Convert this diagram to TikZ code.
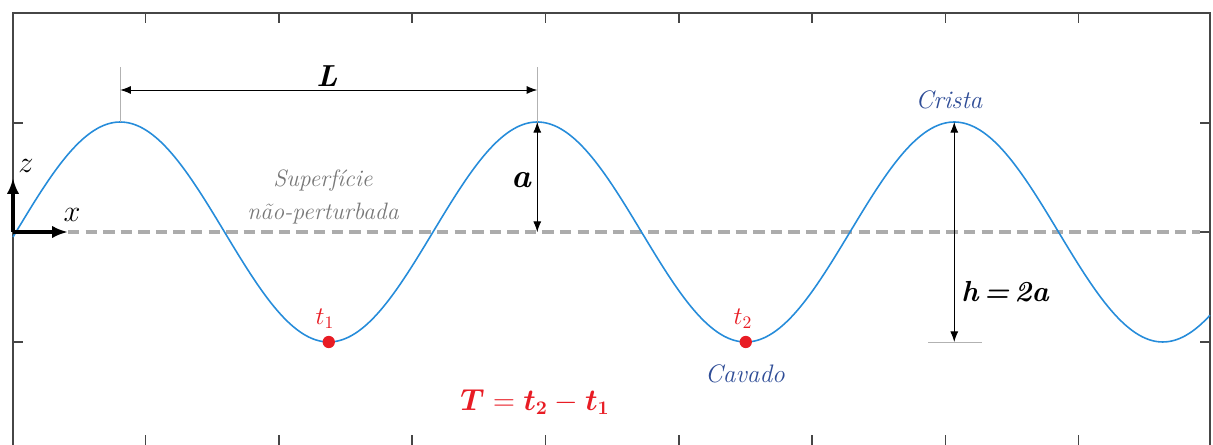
\documentclass[tikz,border=0pt]{standalone}
\usepackage{amsmath}
\usepackage{tikz}
\usetikzlibrary{arrows.meta, positioning}

\definecolor{waveblue}{RGB}{38,140,218}
\definecolor{labelblue}{RGB}{46,76,150}
\definecolor{markred}{RGB}{232,28,36}
\definecolor{surfgray}{RGB}{172,172,172}
\definecolor{textgray}{RGB}{120,120,120}
\definecolor{framegray}{RGB}{70,70,70}

\begin{document}
\begin{tikzpicture}[x=0.02cm, y=-0.02cm,
    dim/.style={{Latex[length=6pt,width=4.5pt]}-{Latex[length=6pt,width=4.5pt]}, black, line width=0.5pt},
    guide/.style={gray!60, line width=0.5pt},
    axis/.style={-{Latex[length=9pt,width=7pt]}, line width=1.8pt},
    tickline/.style={framegray, line width=0.9pt},
    tdot/.style={circle, fill=markred, inner sep=0pt, minimum size=7pt},
    bigred/.style={text=markred, font=\fontsize{16}{18}\selectfont}]
    \useasboundingbox (0,0) rectangle (1213,445);

    % Frame and ticks
    \draw[tickline] (13,445) -- (13,13) -- (1210,13) -- (1210,445);
    \foreach \i in {0,...,7} {
        \draw[tickline] (145.5+133.3*\i,13) -- ++(0,10);
        \draw[tickline] (145.5+133.3*\i,445) -- ++(0,-10);
    }
    \foreach \y in {123,232,342} {
        \draw[tickline] (13,\y) -- ++(10,0);
        \draw[tickline] (1210,\y) -- ++(-10,0);
    }

    % Key points of the wave
    \coordinate (origin) at (13,232);
    \coordinate (zend) at (13,178);
    \coordinate (xend) at (68,232);
    \coordinate (surfend) at (1200,232);
    \coordinate (crest1) at (120.25,122);
    \coordinate (crest2) at (537.25,122);
    \coordinate (crest3) at (954.25,122);
    \coordinate (trough1) at (328.75,342);
    \coordinate (trough2) at (745.75,342);
    \coordinate (mid2) at (537.25,232);
    \coordinate (base3) at (954.25,342);
    \coordinate (Lleft) at (120.25,90);
    \coordinate (Lright) at (537.25,90);

    % Undisturbed surface
    \draw[surfgray, line width=1.8pt, dash pattern=on 6.5pt off 3.5pt] (xend) -- (surfend);

    % Wave profile
    \draw[waveblue, line width=0.9pt] plot[domain=13:1210, samples=240, smooth]
        (\x, {232-110*sin(0.86331*(\x-16))});

    % Axes
    \draw[axis] (origin) -- (zend);
    \draw[axis] (origin) -- (xend);
    \node (zlabel) at (26,166) {\LARGE$z$};
    \node (xlabel) at (72,215) {\LARGE$x$};

    % Wavelength
    \draw[guide] (crest1) -- ++(0,-55);
    \draw[guide] (mid2) -- ++(0,-165);
    \draw[dim] (Lleft) -- (Lright);
    \node (Llabel) at (327,76) {\LARGE\bfseries\itshape L};

    % Amplitude and height
    \draw[dim] (crest2) -- (mid2);
    \node (alabel) at (521,180) {\fontsize{19}{21}\selectfont\bfseries\itshape a};
    \draw[guide] (928,342) -- (982,342);
    \draw[dim] (crest3) -- (base3);
    \node (hlabel) at (1005,292) {\fontsize{16.5}{18}\selectfont\bfseries\itshape h\hspace{0.18em}=\hspace{0.18em}2a};

    % Labels
    \node[textgray, align=center, font=\fontsize{13.5}{15}\selectfont\itshape] (surf) at (323,197) {Superfície\\[4pt]não-perturbada};
    \node[labelblue, font=\Large\itshape] (crista) at (949,100) {Crista};
    \node[labelblue, font=\Large\itshape] (cavado) at (745,374) {Cavado};

    % Period
    \node[tdot] (t1dot) at (trough1) {};
    \node[tdot] (t2dot) at (trough2) {};
    \node[markred, font=\Large] (t1label) at (325,319) {$t_1$};
    \node[markred, font=\Large] (t2label) at (743,319) {$t_2$};
    \node[bigred] (Tlabel) at (535,402) {$\boldsymbol{T} = \boldsymbol{t_2} - \boldsymbol{t_1}$};
\end{tikzpicture}
\end{document}
